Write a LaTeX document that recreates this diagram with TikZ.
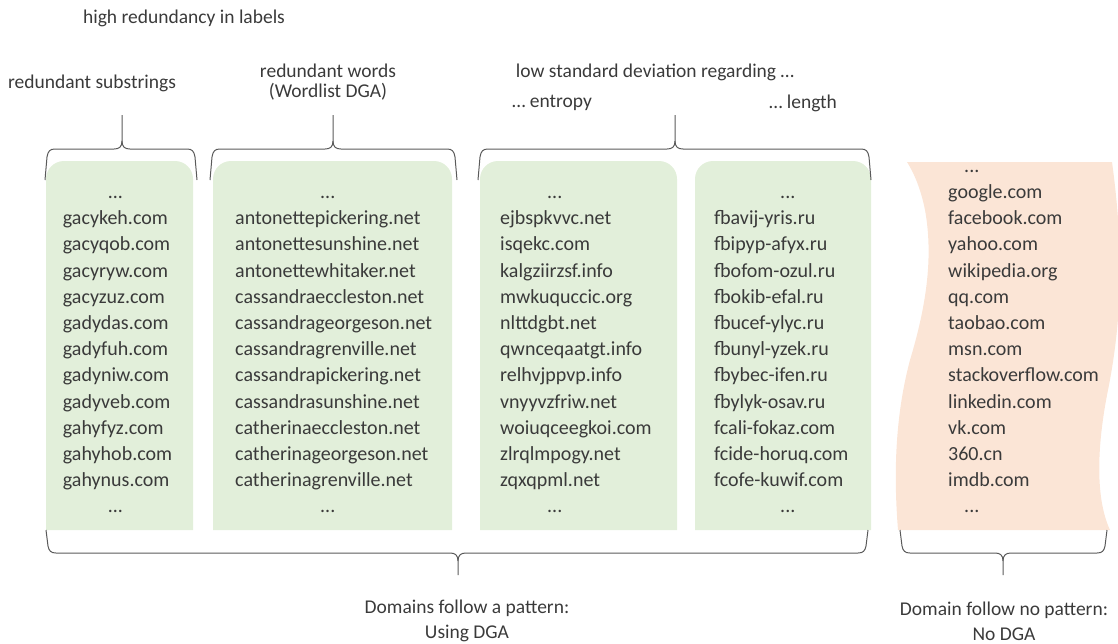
\documentclass[tikz,border=0pt]{standalone}
\usepackage{fontspec}
\setmainfont{Carlito}
\definecolor{dgagreen}{HTML}{E2EFDA}
\definecolor{nodgaorange}{HTML}{FBE5D6}
\definecolor{txtgray}{HTML}{3A3A3A}
\definecolor{bracegray}{HTML}{5A5A5A}

\begin{document}
\begin{tikzpicture}[x=1pt, y=-1pt,
  lbl/.style={font=\fontsize{19.5}{20}\selectfont, text=txtgray, inner sep=0pt, align=center},
  lst/.style={font=\fontsize{20}{26.2}\selectfont, text=txtgray, inner sep=0pt, align=left, anchor=base west},
  brc/.style={draw=bracegray, line width=1pt}]

\useasboundingbox (0,0) rectangle (1118,643);

% boxes
\fill[dgagreen] (46,530) [rounded corners=18pt] -- (46,161) -- (193,161) [sharp corners] -- (193,530) -- cycle;
\fill[dgagreen] (213,530) [rounded corners=18pt] -- (213,161) -- (452,161) [sharp corners] -- (452,530) -- cycle;
\fill[dgagreen] (480,530) [rounded corners=18pt] -- (480,161) -- (677,161) [sharp corners] -- (677,530) -- cycle;
\fill[dgagreen] (695,530) [rounded corners=18pt] -- (695,161) -- (871,161) [sharp corners] -- (871,530) -- cycle;

\fill[nodgaorange] (907,162) -- (1112,162)
  .. controls (1124,250) and (1122,320) .. (1108,390)
  .. controls (1096,450) and (1096,500) .. (1110,530)
  -- (898,530)
  .. controls (894,480) and (894,420) .. (910,360)
  .. controls (925,310) and (934,260) .. (925,210)
  .. controls (920,185) and (912,170) .. cycle;

% lists (base = last line)
\node[lst] (subs) at (62.7,512.9) {\hspace*{45pt}...\\gacykeh.com\\gacyqob.com\\gacyryw.com\\gacyzuz.com\\gadydas.com\\gadyfuh.com\\gadyniw.com\\gadyveb.com\\gahyfyz.com\\gahyhob.com\\gahynus.com\\\hspace*{45pt}...};
\node[lst] (words) at (235,512.9) {\hspace*{85pt}...\\antonettepickering.net\\antonettesunshine.net\\antonettewhitaker.net\\cassandraeccleston.net\\cassandrageorgeson.net\\cassandragrenville.net\\cassandrapickering.net\\cassandrasunshine.net\\catherinaeccleston.net\\catherinageorgeson.net\\catherinagrenville.net\\\hspace*{85pt}...};
\node[lst] (entropy) at (500,512.9) {\hspace*{47pt}...\\ejbspkvvc.net\\isqekc.com\\kalgziirzsf.info\\mwkuquccic.org\\nlttdgbt.net\\qwnceqaatgt.info\\relhvjppvp.info\\vnyyvzfriw.net\\woiuqceegkoi.com\\zlrqlmpogy.net\\zqxqpml.net\\\hspace*{47pt}...};
\node[lst] (length) at (714,512.9) {\hspace*{66pt}...\\fbavij-yris.ru\\fbipyp-afyx.ru\\fbofom-ozul.ru\\fbokib-efal.ru\\fbucef-ylyc.ru\\fbunyl-yzek.ru\\fbybec-ifen.ru\\fbylyk-osav.ru\\fcali-fokaz.com\\fcide-horuq.com\\fcofe-kuwif.com\\\hspace*{66pt}...};
\node[lst] (benign) at (948,512.9) {\hspace*{16pt}...\\google.com\\facebook.com\\yahoo.com\\wikipedia.org\\qq.com\\taobao.com\\msn.com\\stackoverflow.com\\linkedin.com\\vk.com\\360.cn\\imdb.com\\\hspace*{16pt}...};

% labels
\node[lbl] (high) at (184,18) {high redundancy in labels};
\node[lbl] (substrlbl) at (92,83) {redundant substrings};
\node[lbl] (wordslbl) at (328,82) {redundant words\\(Wordlist DGA)};
\node[lbl] (lowstd) at (655,72) {low standard deviation regarding …};
\node[lbl] (entropylbl) at (552,103) {… entropy};
\node[lbl] (lengthlbl) at (803,103) {… length};
\node[lbl, font=\fontsize{19.5}{25}\selectfont] (dga) at (467,621) {Domains follow a pattern:\\Using DGA};
\node[lbl, font=\fontsize{19.5}{25}\selectfont] (nodga) at (1004,621) {Domain follow no pattern:\\No DGA};

% braces
\draw[brc] (45,180) -- (47,157) .. controls (48,151) and (50,149) .. (55,149) -- (114,149) .. controls (119,149) and (122,147) .. (122,141) -- (122,115);
\draw[brc] (122,141) .. controls (122,147) and (125,149) .. (130,149) -- (187,149) .. controls (192,149) and (194,151) .. (195,157) -- (197,180);

\draw[brc] (210,180) -- (212,157) .. controls (213,151) and (215,149) .. (220,149) -- (325,149) .. controls (330,149) and (333,147) .. (333,141) -- (333,115);
\draw[brc] (333,141) .. controls (333,147) and (336,149) .. (341,149) -- (447,149) .. controls (452,149) and (454,151) .. (455,157) -- (457,180);

\draw[brc] (478,180) -- (480,157) .. controls (481,151) and (483,149) .. (488,149) -- (667,149) .. controls (672,149) and (675,147) .. (675,141) -- (675,115);
\draw[brc] (675,141) .. controls (675,147) and (678,149) .. (683,149) -- (861,149) .. controls (866,149) and (868,151) .. (869,157) -- (871,180);

\draw[brc] (46,530) -- (48,546) .. controls (49,551) and (51,553) .. (56,553) -- (450,553) .. controls (455,553) and (458,555) .. (458,561) -- (458,575);
\draw[brc] (458,561) .. controls (458,555) and (461,553) .. (466,553) -- (858,553) .. controls (863,553) and (865,551) .. (866,546) -- (868,530);

\draw[brc] (900,530) -- (902,546) .. controls (903,551) and (905,553) .. (910,553) -- (995,553) .. controls (1000,553) and (1003,555) .. (1003,561) -- (1003,575);
\draw[brc] (1003,561) .. controls (1003,555) and (1006,553) .. (1011,553) -- (1097,553) .. controls (1102,553) and (1104,551) .. (1105,546) -- (1107,530);

\end{tikzpicture}
\end{document}
